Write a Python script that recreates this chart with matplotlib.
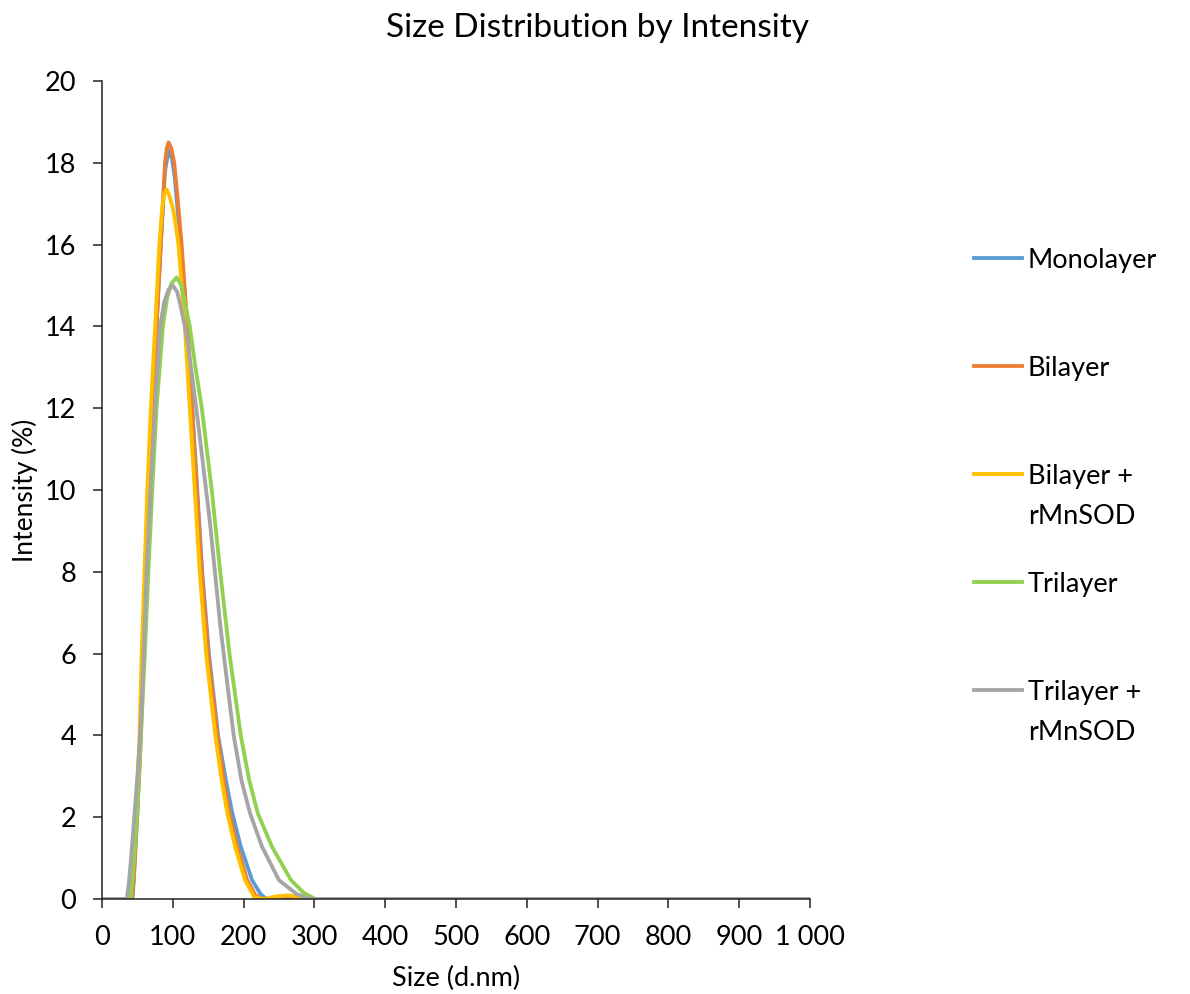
import matplotlib
matplotlib.use("Agg")
import matplotlib.pyplot as plt
from matplotlib.lines import Line2D
from matplotlib.ticker import FuncFormatter, MultipleLocator

plt.rcParams['font.family'] = ['Lato', 'DejaVu Sans']

# size (d.nm) / intensity (%) pairs for each sample
mono_x = [0, 43, 45, 47, 50, 54, 58, 61.5, 66, 71.5, 77, 83, 89, 94, 99, 103, 108, 113, 121,
          127.5, 134.5, 141.5, 151, 164, 175, 184, 196, 212, 224, 232, 1000]
mono_y = [0, 0, 0.5, 1.2, 2.1, 4.0, 6.1, 8.0, 10.0, 12.0, 14.0, 16.0, 17.8, 18.3, 18.1, 17.6, 16.6,
          15.6, 13.8, 12.0, 10.0, 8.0, 6.0, 4.0, 2.9, 2.1, 1.28, 0.46, 0.12, 0, 0]

bi_x = [0, 42, 45, 48, 51, 53, 55, 58.5, 62, 66.5, 72, 77, 83, 86, 89, 91.5, 94, 98, 102, 107,
        112.5, 120.5, 127, 134, 141, 150, 163, 172, 180, 191, 205, 217, 228, 1000]
bi_y = [0, 0, 0.5, 1.5, 2.5, 3.2, 4.0, 6.0, 8.0, 10.0, 12.0, 14.0, 16.0, 17.0, 18.0, 18.35, 18.5,
        18.35, 18.0, 17.1, 16.0, 14.0, 12.0, 10.0, 8.0, 6.0, 4.0, 2.9, 2.1, 1.28, 0.46, 0.08, 0, 0]

bi_sod_x = [0, 40, 43, 46, 49, 53, 56, 60, 64, 69, 75, 81, 85, 88, 91, 95, 100, 104, 108, 117,
            124, 131, 138, 147, 160, 169, 177, 188, 202, 215, 228, 245, 262, 280, 294, 1000]
bi_sod_y = [0, 0, 0.5, 1.3, 2.3, 4.0, 6.0, 8.0, 10.0, 12.0, 14.0, 16.0, 16.9, 17.25, 17.35, 17.2,
            16.9, 16.5, 16.0, 14.0, 12.0, 10.0, 8.0, 6.0, 4.0, 2.9, 2.1, 1.28, 0.46, 0.05, 0,
            0.06, 0.09, 0.05, 0, 0]

tri_x = [0, 40, 43, 46, 50, 55, 60.5, 65.5, 71, 77, 86, 92, 98, 105.5, 112, 117, 124, 132, 141,
         155, 167, 180, 196, 208, 220, 240, 267, 285, 301, 1000]
tri_y = [0, 0, 0.5, 1.2, 2.2, 4.0, 6.0, 8.0, 10.0, 12.0, 14.0, 14.7, 15.05, 15.2, 15.0, 14.6, 14.0,
         13.0, 12.0, 10.0, 8.0, 6.0, 4.0, 2.9, 2.1, 1.28, 0.46, 0.15, 0, 0]

tri_sod_x = [0, 35, 38, 42, 46, 50, 55, 59, 63, 68.5, 75, 82, 88, 94, 100, 106, 111, 117, 122,
             136, 152.5, 167, 176, 186, 197, 209, 226, 250, 275, 294, 1000]
tri_sod_y = [0, 0, 0.4, 1.2, 2.1, 3.0, 4.3, 6.0, 8.0, 10.0, 12.0, 14.0, 14.6, 14.9, 15.0, 14.85,
             14.5, 14.0, 13.5, 11.6, 9.2, 6.7, 5.4, 4.0, 2.9, 2.1, 1.28, 0.46, 0.12, 0, 0]

labels = [["Monolayer"], ["Bilayer"], ["Bilayer +", "rMnSOD"], ["Trilayer"], ["Trilayer +", "rMnSOD"]]
colors = ["#5B9BD5", "#ED7D31", "#FFC000", "#92D050", "#A5A5A5"]
series = [(mono_x, mono_y), (bi_x, bi_y), (bi_sod_x, bi_sod_y), (tri_x, tri_y), (tri_sod_x, tri_sod_y)]

W, H = 1190, 994
fig = plt.figure(figsize=(W / 100, H / 100), dpi=100)
ax = fig.add_axes([102 / W, 95 / H, 708 / W, 818 / H])

for (x, y), c in zip(series, colors):
    ax.plot(x, y, color=c, lw=2.75, solid_joinstyle='round', solid_capstyle='round')

ax.set_xlim(0, 1000)
ax.set_ylim(0, 20)
ax.xaxis.set_major_locator(MultipleLocator(100))
ax.yaxis.set_major_locator(MultipleLocator(2))
ax.xaxis.set_major_formatter(FuncFormatter(lambda v, p: f"{int(v):,}".replace(",", " ")))
ax.tick_params(direction='out', length=6.5, width=1.1, pad=12, labelsize=19.5, color='#222222')
for s in ['top', 'right']:
    ax.spines[s].set_visible(False)
for s in ['left', 'bottom']:
    ax.spines[s].set_linewidth(1.1)
    ax.spines[s].set_color('#222222')

ax.set_xlabel("Size (d.nm)", fontsize=19.5)
ax.xaxis.set_label_coords(0.5, (16 - 95) / 818)
ax.xaxis.label.set_va('center')
ax.set_ylabel("Intensity (%)", fontsize=19)
ax.yaxis.set_label_coords((25 - 102) / 708, 0.5)
ax.yaxis.label.set_va('center')

fig.text(598 / W, 1 - 37 / H, "Size Distribution by Intensity", ha='center', va='baseline', fontsize=24)

# legend drawn on the figure, one slot per series
for i, (lines, c) in enumerate(zip(labels, colors)):
    yl = 258 + 108 * i
    fig.add_artist(Line2D([974 / W, 1022 / W], [1 - yl / H, 1 - yl / H], color=c, lw=2.75,
                          transform=fig.transFigure))
    for j, t in enumerate(lines):
        fig.text(1028 / W, 1 - (yl + 10 + 40 * j) / H, t, ha='left', va='baseline', fontsize=19.5)

fig.savefig("out.png", dpi=100)
